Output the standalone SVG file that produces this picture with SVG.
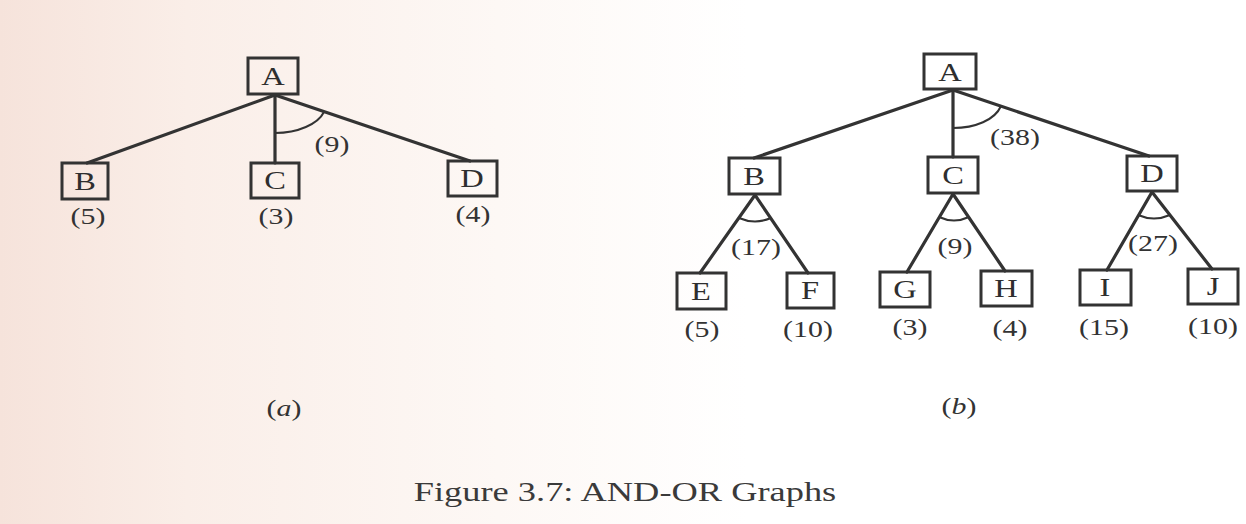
<svg xmlns="http://www.w3.org/2000/svg" width="1246" height="524" viewBox="0 0 1246 524">
<defs>
<linearGradient id="bg" x1="0" y1="0" x2="1" y2="0">
<stop offset="0" stop-color="#f6e3db"/>
<stop offset="0.15" stop-color="#faeee8"/>
<stop offset="0.4" stop-color="#fdf8f5"/>
<stop offset="0.6" stop-color="#ffffff"/>
<stop offset="1" stop-color="#ffffff"/>
</linearGradient>
<style>
.box{fill:none;stroke:#333;stroke-width:3}
.ln{fill:none;stroke:#333;stroke-width:3.2;stroke-linecap:round}
.arc{fill:none;stroke:#333;stroke-width:2}
.n{font-family:"Liberation Serif","Times New Roman",serif;font-size:25px;fill:#2e2e2e;text-anchor:middle}
.l{font-family:"Liberation Serif","Times New Roman",serif;font-size:23px;fill:#333;text-anchor:middle}
.cap{font-family:"Liberation Serif","Times New Roman",serif;font-size:28px;fill:#3a3a3a;text-anchor:middle}
</style>
</defs>
<rect x="0" y="0" width="1246" height="524" fill="url(#bg)"/>

<g id="connectors">
<line class="ln" x1="275" y1="95" x2="87" y2="163"/>
<line class="ln" x1="275" y1="95" x2="275" y2="163"/>
<line class="ln" x1="275" y1="95" x2="470" y2="161"/>
<path class="arc" d="M275,133 C298,133 318,124 324,112"/>
<line class="ln" x1="953" y1="90" x2="754" y2="158"/>
<line class="ln" x1="953" y1="90" x2="953" y2="157"/>
<line class="ln" x1="953" y1="90" x2="1149" y2="156"/>
<path class="arc" d="M953,128 C975,128 995,120 1001,106"/>
<line class="ln" x1="755" y1="195" x2="700" y2="273"/>
<line class="ln" x1="755" y1="195" x2="808" y2="273"/>
<path class="arc" d="M739,218 Q755,225 771,218"/>
<line class="ln" x1="953" y1="194" x2="907" y2="272"/>
<line class="ln" x1="953" y1="194" x2="1005" y2="271"/>
<path class="arc" d="M939,217 Q954,224 969,217"/>
<line class="ln" x1="1152" y1="192" x2="1107" y2="270"/>
<line class="ln" x1="1152" y1="192" x2="1212" y2="269"/>
<path class="arc" d="M1138,215 Q1154,222 1170,215"/>
</g>

<g id="a-A"><rect class="box" x="248" y="58" width="50" height="36"/><text class="n" transform="translate(273,85) scale(1.3 1)">A</text></g>
<g id="a-B"><rect class="box" x="62" y="163" width="46" height="36"/><text class="n" transform="translate(85,190) scale(1.3 1)">B</text></g>
<g id="a-C"><rect class="box" x="251" y="163" width="48" height="35"/><text class="n" transform="translate(275,189) scale(1.3 1)">C</text></g>
<g id="a-D"><rect class="box" x="448" y="161" width="49" height="35"/><text class="n" transform="translate(472,187) scale(1.3 1)">D</text></g>
<g id="a-labels">
<text class="l" transform="translate(88,224) scale(1.3 1)">(5)</text>
<text class="l" transform="translate(276,224) scale(1.3 1)">(3)</text>
<text class="l" transform="translate(473,222) scale(1.3 1)">(4)</text>
<text class="l" transform="translate(332,152) scale(1.3 1)">(9)</text>
<text class="l" transform="translate(284,416) scale(1.3 1)">(<tspan font-style="italic">a</tspan>)</text>
</g>

<g id="b-A"><rect class="box" x="924" y="54" width="52" height="35"/><text class="n" transform="translate(950,81) scale(1.3 1)">A</text></g>
<g id="b-B"><rect class="box" x="729" y="158" width="51" height="36"/><text class="n" transform="translate(754,185) scale(1.3 1)">B</text></g>
<g id="b-C"><rect class="box" x="928" y="157" width="50" height="36"/><text class="n" transform="translate(953,184) scale(1.3 1)">C</text></g>
<g id="b-D"><rect class="box" x="1127" y="156" width="50" height="35"/><text class="n" transform="translate(1152,182) scale(1.3 1)">D</text></g>
<g id="b-E"><rect class="box" x="677" y="273" width="49" height="36"/><text class="n" transform="translate(701,300) scale(1.3 1)">E</text></g>
<g id="b-F"><rect class="box" x="787" y="273" width="47" height="35"/><text class="n" transform="translate(810,299) scale(1.3 1)">F</text></g>
<g id="b-G"><rect class="box" x="880" y="272" width="50" height="35"/><text class="n" transform="translate(905,298) scale(1.3 1)">G</text></g>
<g id="b-H"><rect class="box" x="981" y="271" width="51" height="35"/><text class="n" transform="translate(1006,297) scale(1.3 1)">H</text></g>
<g id="b-I"><rect class="box" x="1080" y="270" width="51" height="35"/><text class="n" transform="translate(1105,296) scale(1.3 1)">I</text></g>
<g id="b-J"><rect class="box" x="1188" y="269" width="50" height="35"/><text class="n" transform="translate(1213,295) scale(1.3 1)">J</text></g>
<g id="b-labels">
<text class="l" transform="translate(1015,145) scale(1.3 1)">(38)</text>
<text class="l" transform="translate(756,255) scale(1.3 1)">(17)</text>
<text class="l" transform="translate(955,254) scale(1.3 1)">(9)</text>
<text class="l" transform="translate(1153,251) scale(1.3 1)">(27)</text>
<text class="l" transform="translate(702,337) scale(1.3 1)">(5)</text>
<text class="l" transform="translate(808,337) scale(1.3 1)">(10)</text>
<text class="l" transform="translate(910,335) scale(1.3 1)">(3)</text>
<text class="l" transform="translate(1010,336) scale(1.3 1)">(4)</text>
<text class="l" transform="translate(1104,335) scale(1.3 1)">(15)</text>
<text class="l" transform="translate(1213,334) scale(1.3 1)">(10)</text>
<text class="l" transform="translate(959,414) scale(1.3 1)">(<tspan font-style="italic">b</tspan>)</text>
</g>

<text class="cap" transform="translate(625,501) scale(1.3 1)">Figure 3.7:  AND-OR Graphs</text>
</svg>
